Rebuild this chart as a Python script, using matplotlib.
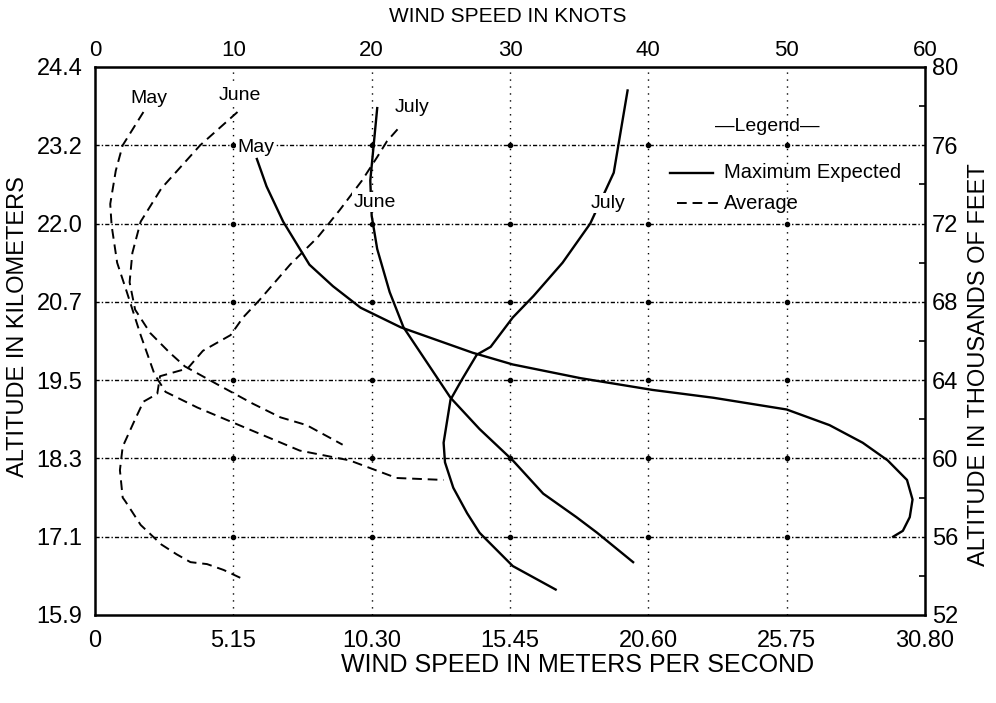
import numpy as np
import matplotlib.pyplot as plt

plt.rcParams['font.family'] = ['Liberation Sans', 'DejaVu Sans']

# wind speed (knots) vs altitude (thousands of feet)
may_max_kt = [11.7, 12.4, 13.6, 15.5, 17.2, 19.2, 22.1, 27.3, 30.2, 35.1, 40.3, 44.7,
              50.0, 53.1, 55.5, 57.3, 58.7, 59.1, 58.9, 58.4, 57.7]
may_max_kft = [75.3, 73.9, 72.1, 69.9, 68.8, 67.7, 66.7, 65.4, 64.8, 64.1, 63.5, 63.1,
               62.5, 61.7, 60.8, 59.9, 58.9, 57.9, 57.0, 56.3, 56.0]

june_max_kt = [20.4, 19.9, 20.0, 20.4, 21.3, 22.3, 24.0, 25.7, 27.8, 30.2, 32.4, 34.8, 36.3, 38.9]
june_max_kft = [77.9, 74.2, 72.4, 70.7, 68.5, 66.7, 64.9, 63.1, 61.5, 59.9, 58.2, 57.0, 56.2, 54.7]

july_max_kt = [38.5, 37.5, 35.8, 33.8, 31.7, 30.2, 28.6, 27.6, 26.5, 25.7, 25.2, 25.3,
               25.9, 26.9, 27.8, 30.2, 33.3]
july_max_kft = [78.8, 74.6, 72.0, 70.0, 68.3, 67.2, 65.7, 65.3, 64.0, 63.0, 60.8, 59.8,
                58.5, 57.2, 56.2, 54.5, 53.3]

may_avg_kt = [3.5, 2.0, 1.5, 1.1, 1.2, 1.6, 2.3, 3.3, 4.3, 5.1, 7.4, 12.1, 14.8, 18.4, 21.8, 25.2]
may_avg_kft = [77.7, 76.0, 74.7, 73.0, 71.9, 70.0, 68.5, 66.3, 64.3, 63.4, 62.6, 61.2,
               60.4, 59.9, 59.0, 58.9]

june_avg_kt = [10.3, 7.6, 4.8, 3.3, 2.7, 2.5, 2.9, 4.0, 5.4, 6.5, 8.8, 11.4, 13.4, 15.3, 17.9]
june_avg_kft = [77.7, 76.0, 73.8, 72.1, 70.5, 69.0, 67.6, 66.4, 65.4, 64.7, 63.8, 62.8,
                62.1, 61.7, 60.7]

july_avg_kt = [10.5, 9.3, 8.1, 6.9, 5.9, 4.8, 3.3, 2.2, 2.0, 1.8, 2.0, 2.9, 3.5, 4.5, 4.7,
               6.7, 7.8, 9.8, 10.7, 11.9, 14.1, 16.1, 17.7, 19.3, 20.4, 21.1, 22.1]
july_avg_kft = [53.9, 54.3, 54.6, 54.7, 55.1, 55.6, 56.6, 57.8, 58.0, 59.4, 60.6, 62.0, 62.9,
                63.3, 64.2, 64.6, 65.5, 66.3, 67.2, 68.1, 69.9, 71.3, 72.7, 74.2, 75.4, 76.2, 77.0]

knot_ticks = [0, 10, 20, 30, 40, 50, 60]
ms_labels = ['0', '5.15', '10.30', '15.45', '20.60', '25.75', '30.80']
kft_ticks = [52, 56, 60, 64, 68, 72, 76, 80]
km_labels = ['15.9', '17.1', '18.3', '19.5', '20.7', '22.0', '23.2', '24.4']

fig = plt.figure(figsize=(9.96, 7.03), dpi=100)
ax = fig.add_axes([0.0954, 0.1252, 0.8333, 0.7795])
ax.set_xlim(0, 60)
ax.set_ylim(52, 80)

# grid
for k in knot_ticks[1:-1]:
    ax.axvline(k, color='black', lw=1.0, ls=(0, (1, 4)), zorder=1)
for f in kft_ticks[1:-1]:
    ax.axhline(f, color='black', lw=1.0, ls=(0, (3, 1.5, 1, 1.5)), zorder=1)
gx, gy = np.meshgrid(knot_ticks[1:-1], kft_ticks[1:-1])
ax.plot(gx.ravel(), gy.ravel(), 'o', color='black', ms=3, zorder=1)

# curves
solid = dict(color='black', lw=1.7, zorder=3)
dash = dict(color='black', lw=1.4, ls=(0, (5, 3)), zorder=3)
ax.plot(may_max_kt, may_max_kft, **solid)
ax.plot(june_max_kt, june_max_kft, **solid)
ax.plot(july_max_kt, july_max_kft, **solid)
ax.plot(may_avg_kt, may_avg_kft, **dash)
ax.plot(june_avg_kt, june_avg_kft, **dash)
ax.plot(july_avg_kt, july_avg_kft, **dash)

# curve labels
lab = dict(fontsize=14, ha='center', va='center', zorder=5,
           bbox=dict(facecolor='white', edgecolor='none', pad=1))
ax.text(3.9, 78.4, 'May', **lab)
ax.text(10.5, 78.55, 'June', **lab)
ax.text(11.6, 75.9, 'May', **lab)
ax.text(22.9, 77.95, 'July', **lab)
ax.text(20.2, 73.1, 'June', **lab)
ax.text(37.1, 73.05, 'July', **lab)

# hand-drawn legend
ax.text(48.6, 76.95, '\u2014Legend\u2014', fontsize=14, ha='center', va='center', zorder=5)
ax.plot([41.6, 44.7], [74.6, 74.6], **solid)
ax.text(45.5, 74.6, 'Maximum Expected', fontsize=14.5, ha='left', va='center', zorder=5)
ax.plot([42.1, 45.2], [73.05, 73.05], **dash)
ax.text(45.5, 73.05, 'Average', fontsize=14.5, ha='left', va='center', zorder=5)

# axes / ticks
ax.set_xticks(knot_ticks)
ax.set_xticklabels(ms_labels)
ax.set_yticks(kft_ticks)
ax.set_yticklabels(km_labels)
ax.tick_params(direction='in', length=0, labelsize=17)
ax.tick_params(axis='x', pad=11)
ax.tick_params(axis='y', pad=9)
for s in ax.spines.values():
    s.set_linewidth(1.8)

top = ax.secondary_xaxis('top')
top.set_xticks(knot_ticks)
top.set_xticklabels([str(k) for k in knot_ticks])
top.tick_params(direction='in', length=0, labelsize=16, pad=4)

right = ax.secondary_yaxis('right')
right.set_yticks(kft_ticks)
right.set_yticklabels([str(f) for f in kft_ticks])
right.set_yticks(np.arange(52, 81, 2), minor=True)
right.tick_params(direction='in', length=0, labelsize=17, pad=5)
right.tick_params(which='minor', direction='in', length=4, width=1.2)

fig.text(0.51, 0.976, 'WIND SPEED IN KNOTS', fontsize=15, ha='center', va='center')
fig.text(0.58, 0.054, 'WIND SPEED IN METERS PER SECOND', fontsize=18, ha='center', va='center')
fig.text(0.018, 0.535, 'ALTITUDE IN KILOMETERS', fontsize=17, rotation=90, ha='center', va='center')
fig.text(0.983, 0.481, 'ALTITUDE IN THOUSANDS OF FEET', fontsize=17, rotation=90,
         ha='center', va='center')

fig.savefig('out.png', dpi=100)
